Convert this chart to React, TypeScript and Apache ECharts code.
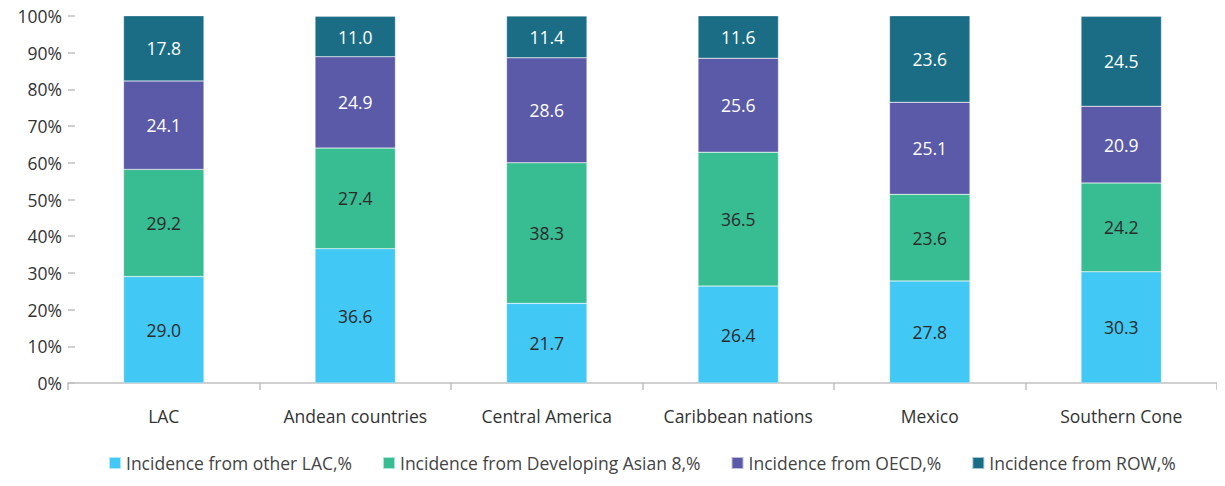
import React, { useEffect, useRef } from "react";
import * as echarts from "echarts";

const categories = ["LAC", "Andean countries", "Central America", "Caribbean nations", "Mexico", "Southern Cone"];
const otherLAC = [29.0, 36.6, 21.7, 26.4, 27.8, 30.3];
const developingAsian = [29.2, 27.4, 38.3, 36.5, 23.6, 24.2];
const oecd = [24.1, 24.9, 28.6, 25.6, 25.1, 20.9];
const row = [17.8, 11.0, 11.4, 11.6, 23.6, 24.5];
const seriesNames = [
  "Incidence from other LAC,%",
  "Incidence from Developing Asian 8,%",
  "Incidence from OECD,%",
  "Incidence from ROW,%",
];
const colors = ["#41C8F4", "#38BC92", "#5A5AA8", "#1A6D85"];
const labelColors = ["#2b2b2b", "#2b2b2b", "#ffffff", "#ffffff"];
const FONT = "'Open Sans', sans-serif";
const FS = 17.5;

export default function App() {
  const ref = useRef<HTMLDivElement>(null);
  useEffect(() => {
    if (!ref.current) return;
    const chart = echarts.init(ref.current, null, { renderer: "svg" });
    const data = [otherLAC, developingAsian, oecd, row];
    chart.setOption({
      animation: false,
      textStyle: { fontFamily: FONT },
      grid: { left: 68, right: 8, top: 16, bottom: 103 },
      legend: {
        bottom: 9,
        left: 103,
        itemWidth: 12,
        itemHeight: 12,
        itemGap: 30,
        icon: "rect",
        textStyle: { fontSize: FS, color: "#444", fontFamily: FONT },
        data: seriesNames,
      },
      xAxis: {
        type: "category",
        data: categories,
        axisLine: { lineStyle: { color: "#c0c0c0", width: 1.5 } },
        axisTick: { show: true, length: 7, lineStyle: { color: "#c0c0c0", width: 1.5 } },
        axisLabel: { fontSize: FS, color: "#333", margin: 24, fontFamily: FONT, interval: 0 },
      },
      yAxis: {
        type: "value",
        min: 0,
        max: 100,
        interval: 10,
        splitLine: { show: false },
        axisLine: { show: false },
        axisTick: { show: true, inside: true, length: 7, lineStyle: { color: "#c0c0c0", width: 1.5 } },
        axisLabel: { formatter: "{value}%", fontSize: FS, color: "#333", margin: 6, fontFamily: FONT },
      },
      series: data.map((d, i) => ({
        name: seriesNames[i],
        type: "bar",
        stack: "total",
        barWidth: "42%",
        data: d,
        itemStyle: { color: colors[i], borderColor: "rgba(255,255,255,0.6)", borderWidth: 0.5 },
        label: {
          show: true,
          position: "inside",
          formatter: (p: any) => Number(p.value).toFixed(1),
          color: labelColors[i],
          fontSize: FS,
          fontFamily: FONT,
        },
      })),
    });
    return () => chart.dispose();
  }, []);
  return <div ref={ref} style={{ width: 1225, height: 486, margin: -8 }} />;
}
